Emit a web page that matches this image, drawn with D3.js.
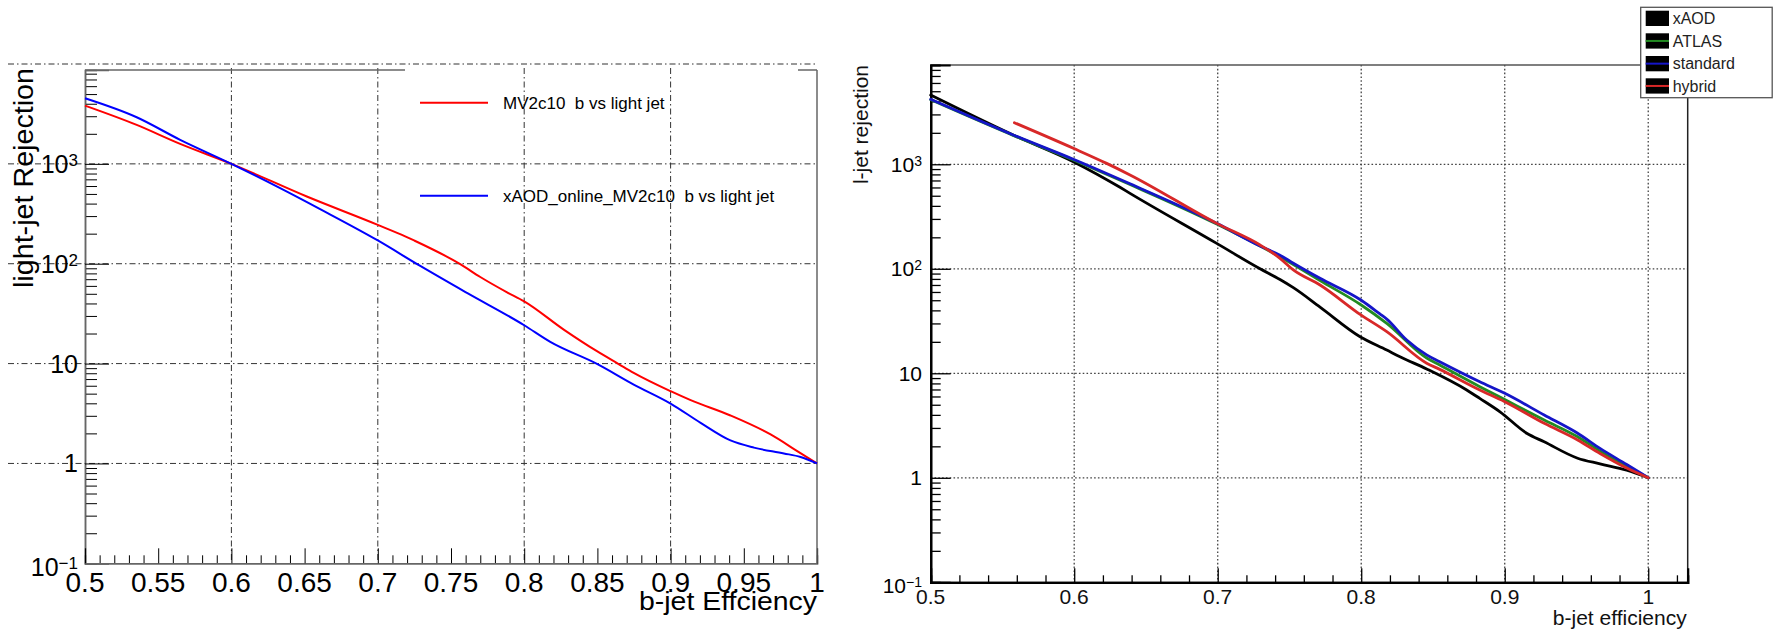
<!DOCTYPE html>
<html><head><meta charset="utf-8">
<script src="https://cdn.jsdelivr.net/npm/d3@7"></script>
<style>html,body{margin:0;padding:0;background:#fff;}svg{display:block;font-family:"Liberation Sans",Arial,Helvetica,sans-serif;}</style>
</head><body>
<svg id="c" width="1773" height="631"></svg>
<script>
// ---------- DATA ----------
// Left panel
const leftSeriesNames = ["MV2c10  b vs light jet", "xAOD_online_MV2c10  b vs light jet"];
const mv2c10X = [0.5, 0.5353, 0.565, 0.6, 0.6515, 0.7, 0.7187, 0.7244, 0.7563, 0.77, 0.788, 0.8, 0.827, 0.8497, 0.8645, 0.8748, 0.9, 0.9137, 0.9409, 0.9683, 0.9865, 1.0];
const mv2c10Y = [3830, 2455, 1585, 1000, 471, 245, 188, 172, 99, 73.6, 52, 42, 21.9, 13.3, 9.9, 8.07, 5.29, 4.3, 3.02, 1.95, 1.33, 1.0];
const xaodOnlineX = [0.5, 0.5353, 0.565, 0.6, 0.6333, 0.6606, 0.7, 0.729, 0.7609, 0.8, 0.8178, 0.8497, 0.8748, 0.9, 0.9205, 0.9409, 0.9569, 0.9774, 0.9888, 1.0];
const xaodOnlineY = [4540, 2930, 1740, 1000, 571, 352, 171, 95, 51, 24.2, 16.5, 9.93, 6.17, 3.98, 2.55, 1.7, 1.44, 1.26, 1.16, 1.0];
const leftXTickVals = [0.5, 0.55, 0.6, 0.65, 0.7, 0.75, 0.8, 0.85, 0.9, 0.95, 1.0];
const leftXTickLabels = ["0.5", "0.55", "0.6", "0.65", "0.7", "0.75", "0.8", "0.85", "0.9", "0.95", "1"];
const leftYTickVals = [0.1, 1, 10, 100, 1000];
const leftYTickLabels = [["10", "\u22121"], ["1", ""], ["10", ""], ["10", "2"], ["10", "3"]];
const leftXTitle = "b-jet Effciency";
const leftYTitle = "light-jet Rejection";

// Right panel
const rightSeriesNames = ["xAOD", "ATLAS", "standard", "hybrid"];
const xaodX = [0.5, 0.5575, 0.5994, 0.6319, 0.6389, 0.6993, 0.7295, 0.7434, 0.7527, 0.7713, 0.7992, 0.8178, 0.827, 0.8456, 0.8735, 0.8826, 0.8967, 0.9153, 0.9275, 0.9508, 0.9664, 0.985, 1.0];
const xaodY = [4600, 1908, 1059, 602, 527, 175, 100, 79, 66, 43, 22.4, 16.7, 14.4, 11.0, 6.92, 5.75, 4.28, 2.67, 2.21, 1.54, 1.36, 1.18, 1.0];
const atlasX = [0.5, 0.5575, 0.5994, 0.6389, 0.6993, 0.7434, 0.7713, 0.8, 0.8178, 0.8456, 0.8547, 0.8826, 0.9, 0.9275, 0.9508, 0.9664, 0.985, 1.0];
const atlasY = [4150, 1890, 1100, 640, 268, 130, 77, 45, 30, 14, 12.0, 7.45, 5.6, 3.57, 2.47, 1.8, 1.28, 1.0];
const standardX = [0.5, 0.5575, 0.5994, 0.6389, 0.6993, 0.7295, 0.7434, 0.7527, 0.7713, 0.8, 0.813, 0.8178, 0.8317, 0.8456, 0.8547, 0.8826, 0.9, 0.9275, 0.9508, 0.9664, 0.985, 1.0];
const standardY = [4190, 1908, 1117, 650, 272, 165, 135, 113, 81, 50, 37, 33, 20.8, 15, 12.9, 8.3, 6.43, 3.99, 2.67, 1.91, 1.34, 1.0];
const hybridX = [0.5583, 0.5994, 0.6226, 0.6389, 0.6993, 0.7295, 0.7434, 0.7527, 0.7713, 0.8, 0.8178, 0.8456, 0.8547, 0.8826, 0.9, 0.9275, 0.9508, 0.9664, 0.985, 1.0];
const hybridY = [2500, 1423, 1020, 791, 272, 169, 126, 97.5, 70, 36, 25, 12.5, 10.9, 6.92, 5.35, 3.32, 2.3, 1.71, 1.24, 1.0];
const rightXTickVals = [0.5, 0.6, 0.7, 0.8, 0.9, 1.0];
const rightXTickLabels = ["0.5", "0.6", "0.7", "0.8", "0.9", "1"];
const rightYTickVals = [0.1, 1, 10, 100, 1000];
const rightYTickLabels = [["10", "\u22121"], ["1", ""], ["10", ""], ["10", "2"], ["10", "3"]];
const rightXTitle = "b-jet efficiency";
const rightYTitle = "l-jet rejection";

// ---------- STYLES / LAYOUT ----------
const leftColors = ["#ff0000", "#0000ff"];
const rightColors = ["#000000", "#228b22", "#1515c8", "#d82828"];

const svg = d3.select("#c");
const zip = (xs, ys) => xs.map((x, i) => ({x, y: ys[i]}));

function minorLog(lo, hi) {
  const out = [];
  for (let e = -1; e <= 3; e++) for (let k = 2; k <= 9; k++) {
    const v = k * Math.pow(10, e);
    if (v > lo && v < hi) out.push(v);
  }
  return out;
}
function stepVals(a, b, s, skip) {
  const out = [];
  for (let i = Math.round(a / s); i <= Math.round(b / s) + 1e-9; i++) {
    const v = +(i * s).toFixed(4);
    if (!skip(v)) out.push(v);
  }
  return out;
}
function supText(g, x, y, base, sup, size, supSize, supDy) {
  const t = g.append("text").attr("x", x).attr("y", y).attr("text-anchor", "end")
    .attr("font-size", size).attr("fill", "#000");
  t.append("tspan").text(base);
  if (sup) t.append("tspan").attr("font-size", supSize).attr("dy", supDy).text(sup);
}

// ================= LEFT PANEL =================
(function () {
  const L = {x0: 85, x1: 817, y0: 563.3, y1: 70};
  const yTop = Math.pow(10, 3.94);
  const x = d3.scaleLinear().domain([0.5, 1.0]).range([L.x0, L.x1]);
  const y = d3.scaleLog().domain([0.1, yTop]).range([L.y0, L.y1]);
  const g = svg.append("g");
  const dashDot = "6,3,1.5,3";

  // grid
  g.append("g").selectAll("line").data([1, 10, 100, 1000, 10000]).join("line")
    .attr("x1", 8).attr("x2", L.x1).attr("y1", d => y(d)).attr("y2", d => y(d))
    .attr("stroke", "#333").attr("stroke-width", 1).attr("stroke-dasharray", dashDot);
  g.append("g").selectAll("line").data([0.6, 0.7, 0.8, 0.9]).join("line")
    .attr("x1", d => x(d)).attr("x2", d => x(d)).attr("y1", L.y1 - 2).attr("y2", L.y0)
    .attr("stroke", "#333").attr("stroke-width", 1).attr("stroke-dasharray", dashDot);

  // axes ticks
  const ay = g.append("g").attr("transform", `translate(${L.x0},0)`);
  ay.call(d3.axisLeft(y).tickValues(minorLog(0.1, yTop)).tickSize(-12).tickFormat(""));
  ay.append("g").call(d3.axisLeft(y).tickValues(leftYTickVals).tickSize(-24).tickFormat(""));
  ay.selectAll(".domain").attr("stroke", "#666").attr("stroke-width", 1.5);
  ay.selectAll(".tick line").attr("stroke", "#000");

  const ax = g.append("g").attr("transform", `translate(0,${L.y0})`);
  ax.call(d3.axisBottom(x).tickValues(stepVals(0.5, 1.0, 0.01, v => Math.abs(v * 20 - Math.round(v * 20)) < 1e-6)).tickSize(-8).tickFormat(""));
  ax.append("g").call(d3.axisBottom(x).tickValues(leftXTickVals).tickSize(-15).tickFormat(""));
  ax.selectAll(".domain").attr("stroke", "#666").attr("stroke-width", 1.5);
  ax.selectAll(".tick line").attr("stroke", "#000");

  // frame: right side and top (top interrupted where legend box sits)
  const legBox = {x0: 405, x1: 798};
  g.append("line").attr("x1", L.x1).attr("x2", L.x1).attr("y1", L.y1).attr("y2", L.y0).attr("stroke", "#666").attr("stroke-width", 1.5);
  [[L.x0, legBox.x0], [legBox.x1, L.x1]].forEach(s =>
    g.append("line").attr("x1", s[0]).attr("x2", s[1]).attr("y1", L.y1).attr("y2", L.y1).attr("stroke", "#666").attr("stroke-width", 1.5));

  // tick labels
  g.append("g").selectAll("text").data(leftXTickVals).join("text")
    .attr("x", d => x(d)).attr("y", 592).attr("text-anchor", "middle").attr("font-size", 28)
    .text((d, i) => leftXTickLabels[i]);
  const yl = g.append("g");
  leftYTickVals.forEach((v, i) => {
    supText(yl, 78, y(v) + (v === 0.1 ? 13 : 9), leftYTickLabels[i][0], leftYTickLabels[i][1], 25, 17, -7);
  });

  // titles
  g.append("text").attr("x", L.x1).attr("y", 610).attr("text-anchor", "end").attr("font-size", 26)
    .attr("textLength", 178).attr("lengthAdjust", "spacingAndGlyphs").text(leftXTitle);
  g.append("text").attr("transform", "translate(33,68) rotate(-90)").attr("text-anchor", "end").attr("font-size", 27)
    .attr("textLength", 220).attr("lengthAdjust", "spacingAndGlyphs").text(leftYTitle);

  // curves
  const line = d3.line().x(d => x(d.x)).y(d => y(d.y)).curve(d3.curveMonotoneX);
  [zip(mv2c10X, mv2c10Y), zip(xaodOnlineX, xaodOnlineY)].forEach((s, i) =>
    g.append("path").datum(s).attr("d", line).attr("fill", "none")
      .attr("stroke", leftColors[i]).attr("stroke-width", 2).attr("stroke-linejoin", "round"));

  // legend
  const legY = [102.7, 195.7];
  leftSeriesNames.forEach((n, i) => {
    g.append("line").attr("x1", 420).attr("x2", 488).attr("y1", legY[i]).attr("y2", legY[i])
      .attr("stroke", leftColors[i]).attr("stroke-width", 2);
    g.append("text").attr("x", 503).attr("y", legY[i] + 6).attr("font-size", 17)
      .style("white-space", "pre").attr("fill", "#000").text(n);
  });
})();

// ================= RIGHT PANEL =================
(function () {
  const R = {x0: 930.7, x1: 1687.7, y0: 582.3, y1: 65};
  const yTop = Math.pow(10, 3.95);
  const x = d3.scaleLinear().domain([0.5, 1.0275]).range([R.x0, R.x1]);
  const y = d3.scaleLog().domain([0.1, yTop]).range([R.y0, R.y1]);
  const g = svg.append("g");
  const dots = "1.6,2.2";

  // grid
  g.append("g").selectAll("line").data([1, 10, 100, 1000]).join("line")
    .attr("x1", R.x0).attr("x2", R.x1).attr("y1", d => y(d)).attr("y2", d => y(d))
    .attr("stroke", "#444").attr("stroke-width", 1.3).attr("stroke-dasharray", dots);
  g.append("g").selectAll("line").data([0.6, 0.7, 0.8, 0.9, 1.0]).join("line")
    .attr("x1", d => x(d)).attr("x2", d => x(d)).attr("y1", R.y1).attr("y2", R.y0)
    .attr("stroke", "#444").attr("stroke-width", 1.3).attr("stroke-dasharray", dots);

  // frame top + right
  g.append("line").attr("x1", R.x0).attr("x2", R.x1).attr("y1", R.y1).attr("y2", R.y1).attr("stroke", "#555").attr("stroke-width", 1.5);
  g.append("line").attr("x1", R.x1).attr("x2", R.x1).attr("y1", R.y1).attr("y2", R.y0).attr("stroke", "#222").attr("stroke-width", 1.5);

  // axes
  const ay = g.append("g").attr("transform", `translate(${R.x0},0)`);
  ay.call(d3.axisLeft(y).tickValues(minorLog(0.1, yTop)).tickSize(-10).tickFormat(""));
  ay.append("g").call(d3.axisLeft(y).tickValues(rightYTickVals).tickSize(-20).tickFormat(""));
  ay.selectAll(".domain").attr("stroke", "#000").attr("stroke-width", 2.2);
  ay.selectAll(".tick line").attr("stroke", "#000").attr("stroke-width", 1.3);

  const ax = g.append("g").attr("transform", `translate(0,${R.y0})`);
  ax.call(d3.axisBottom(x).tickValues(stepVals(0.5, 1.02, 0.02, v => Math.abs(v * 10 - Math.round(v * 10)) < 1e-6)).tickSize(-7).tickFormat(""));
  ax.append("g").call(d3.axisBottom(x).tickValues(rightXTickVals).tickSize(-14).tickFormat(""));
  ax.selectAll(".domain").attr("stroke", "#000").attr("stroke-width", 2.2);
  ax.selectAll(".tick line").attr("stroke", "#000").attr("stroke-width", 1.3);

  // tick labels
  g.append("g").selectAll("text").data(rightXTickVals).join("text")
    .attr("x", d => x(d)).attr("y", 604).attr("text-anchor", "middle").attr("font-size", 21).attr("fill", "#111")
    .text((d, i) => rightXTickLabels[i]);
  const yl = g.append("g");
  rightYTickVals.forEach((v, i) => {
    supText(yl, 922, y(v) + (v === 0.1 ? 11 : 7.5), rightYTickLabels[i][0], rightYTickLabels[i][1], 21, 14, -6);
  });

  // titles
  g.append("text").attr("x", 1686.7).attr("y", 625).attr("text-anchor", "end").attr("font-size", 21).attr("fill", "#111").text(rightXTitle);
  g.append("text").attr("transform", "translate(868,65) rotate(-90)").attr("text-anchor", "end").attr("font-size", 21).attr("fill", "#111").text(rightYTitle);

  // curves
  const line = d3.line().x(d => x(d.x)).y(d => y(d.y)).curve(d3.curveMonotoneX);
  const series = [zip(xaodX, xaodY), zip(atlasX, atlasY), zip(standardX, standardY), zip(hybridX, hybridY)];
  series.forEach((s, i) =>
    g.append("path").datum(s).attr("d", line).attr("fill", "none")
      .attr("stroke", rightColors[i]).attr("stroke-width", 2.8).attr("stroke-linejoin", "round").attr("stroke-linecap", "round"));

  // legend
  const lg = g.append("g");
  lg.append("rect").attr("x", 1640.7).attr("y", 7.3).attr("width", 131.5).attr("height", 90.4)
    .attr("fill", "#fff").attr("stroke", "#555").attr("stroke-width", 1.3);
  const sw = [10.7, 33.3, 56, 78.3];
  rightSeriesNames.forEach((n, i) => {
    lg.append("rect").attr("x", 1645.7).attr("y", sw[i]).attr("width", 23.3).attr("height", 15.3).attr("fill", "#000");
    if (i > 0) lg.append("line").attr("x1", 1645.7).attr("x2", 1669).attr("y1", sw[i] + 7.65).attr("y2", sw[i] + 7.65)
      .attr("stroke", rightColors[i]).attr("stroke-width", 2);
    lg.append("text").attr("x", 1672.7).attr("y", sw[i] + 13.3).attr("font-size", 16).attr("fill", "#222").text(n);
  });
})();
</script>
</body></html>
